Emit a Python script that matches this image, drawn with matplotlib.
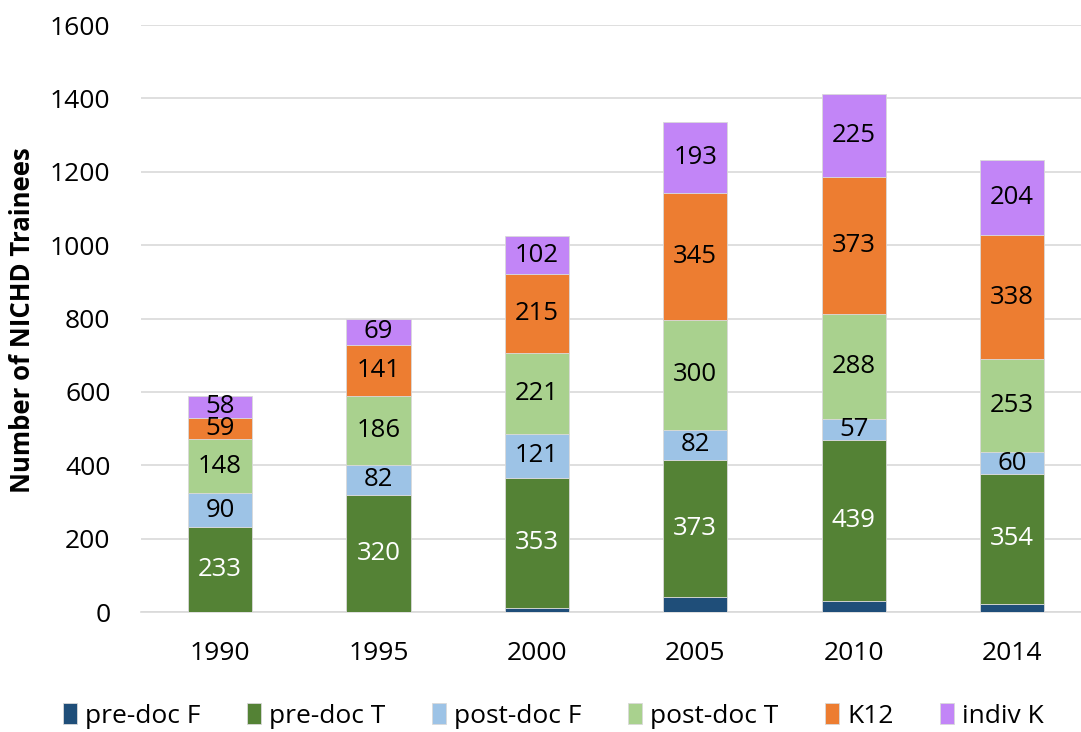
import matplotlib
matplotlib.use("Agg")
import matplotlib.pyplot as plt
import numpy as np

years = ["1990", "1995", "2000", "2005", "2010", "2014"]
series_names = ["pre-doc F", "pre-doc T", "post-doc F", "post-doc T", "K12", "indiv K"]
pre_doc_F = [0, 0, 12, 42, 29, 22]
pre_doc_T = [233, 320, 353, 373, 439, 354]
post_doc_F = [90, 82, 121, 82, 57, 60]
post_doc_T = [148, 186, 221, 300, 288, 253]
k12 = [59, 141, 215, 345, 373, 338]
indiv_k = [58, 69, 102, 193, 225, 204]
y_ticks = [0, 200, 400, 600, 800, 1000, 1200, 1400, 1600]

colors = ["#1F4E79", "#548235", "#9DC3E6", "#A9D18E", "#ED7D31", "#C285F7"]
label_colors = [None, "white", "black", "black", "black", "black"]

plt.rcParams['font.family'] = ['Open Sans', 'DejaVu Sans']

fig = plt.figure(figsize=(10.81, 7.32), dpi=100)
ax = fig.add_axes([141/1081, 1-612/732, (1081-141)/1081, (612-25)/732])

x = np.arange(len(years))
data = [pre_doc_F, pre_doc_T, post_doc_F, post_doc_T, k12, indiv_k]
bottom = np.zeros(len(years))
handles = []
for vals, name, col, lc in zip(data, series_names, colors, label_colors):
    vals = np.array(vals, dtype=float)
    b = ax.bar(x, vals, 0.405, bottom=bottom, color=col, edgecolor="#D9D9D9", linewidth=0.6, label=name, zorder=3)
    handles.append(b)
    if lc is not None:
        for xi, v, bt in zip(x, vals, bottom):
            ax.text(xi, bt + v/2, f"{int(v)}", ha="center", va="center", color=lc, fontsize=18.5, zorder=4)
    bottom += vals

ax.set_xlim(-0.5, 5.436)
ax.set_ylim(0, 1600)
ax.set_yticks(y_ticks)
ax.set_yticklabels([str(t) for t in y_ticks], fontsize=19)
ax.set_xticks(x)
ax.set_xticklabels(years, fontsize=19)
ax.yaxis.grid(True, color="#D9D9D9", linewidth=1.2, zorder=0)
ax.set_axisbelow(True)
for s in ["top", "right", "left"]:
    ax.spines[s].set_visible(False)
ax.spines["bottom"].set_color("#D9D9D9")
ax.spines["bottom"].set_linewidth(1.2)
ax.tick_params(axis="y", length=0, pad=22)
ax.tick_params(axis="x", length=0, pad=21)
ax.set_ylabel("Number of NICHD Trainees", fontsize=18.5, fontweight="bold", va="center")
ax.yaxis.set_label_coords((22 - 141) / (1081 - 141), (612 - 320) / (612 - 25))

fig.legend(handles=handles, labels=series_names, loc="center", bbox_to_anchor=(0.512, 1-716/732),
           ncol=6, frameon=False, fontsize=19, handlelength=0.55, handleheight=0.8, handletextpad=0.3, columnspacing=1.75)

fig.savefig("out.png", dpi=100)
